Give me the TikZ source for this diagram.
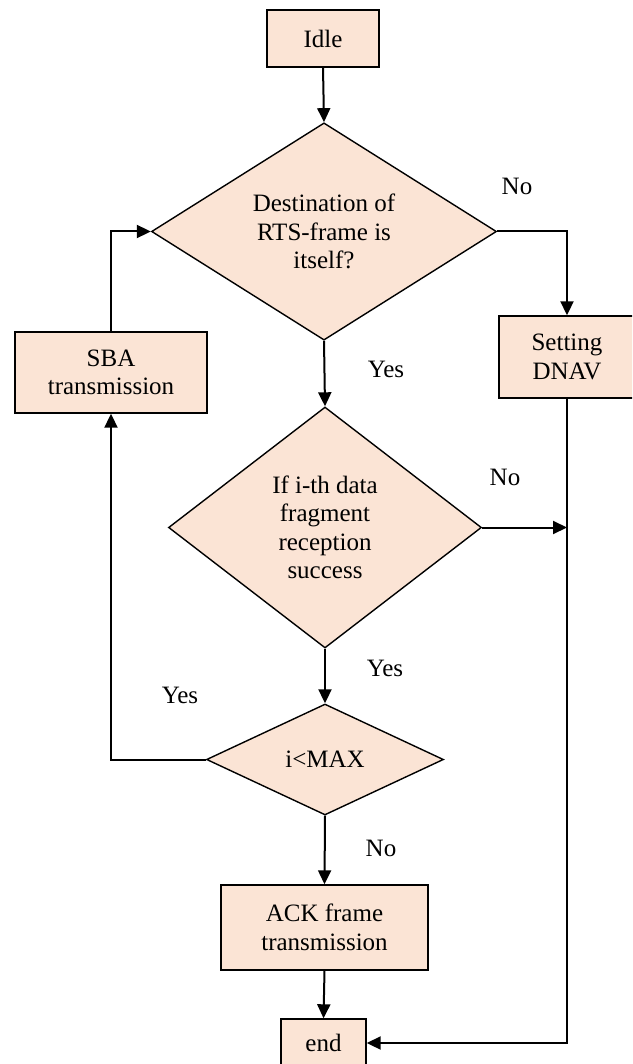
\documentclass[tikz,border=0pt]{standalone}
\usepackage{fontspec}
\setmainfont{Liberation Serif}
\usetikzlibrary{shapes.geometric,arrows.meta}
\definecolor{peach}{RGB}{251,228,213}
\tikzset{
  base/.style={draw=black, fill=peach, line width=1.4pt, align=center, inner sep=0pt,
    font=\fontsize{25}{28.5}\selectfont},
  box/.style={base, rectangle},
  decide/.style={base, diamond},
  lbl/.style={font=\fontsize{25}{28}\selectfont, inner sep=0pt},
  arr/.style={line width=2pt, -{Triangle[length=14pt,width=13pt]}}
}
\begin{document}
\begin{tikzpicture}[x=1pt,y=-1pt]
\useasboundingbox (0,0) rectangle (632,1064);
\clip (0,0) rectangle (632,1064);
\node[box, minimum width=112pt, minimum height=57pt] (idle) at (323,38.5) {Idle};
\node[decide, minimum width=345pt, minimum height=217pt] (d1) at (324,231.5) {Destination of\\RTS-frame is\\itself?};
\node[box, minimum width=192pt, minimum height=81pt] (sba) at (111,372.5) {SBA\\transmission};
\node[box, minimum width=136pt, minimum height=82pt] (set) at (567,357) {Setting\\DNAV};
\node[decide, minimum width=313pt, minimum height=241pt] (d2) at (325,527.5) {If i-th data\\fragment\\reception\\success};
\node[decide, minimum width=237pt, minimum height=111pt] (d3) at (325,759.5) {i<MAX};
\node[box, minimum width=207pt, minimum height=85pt] (ack) at (324.5,927.5) {ACK frame\\transmission};
\node[box, minimum width=85pt, minimum height=48pt] (end) at (323.5,1043) {end};

\draw[arr] (idle.south) -- (d1.north);
\draw[arr] (d1.east) -| (set.north);
\draw[arr] (d1.south) -- (d2.north);
\draw[arr] (d2.east) -- (d2.east -| set.south);
\draw[arr] (set.south) |- (end.east);
\draw[arr] (d2.south) -- (d3.north);
\draw[arr] (d3.west) -| (sba.south);
\draw[arr] (sba.north) |- (d1.west);
\draw[arr] (d3.south) -- (ack.north);
\draw[arr] (ack.south) -- (end.north);

\node[lbl] (l1) at (517,186) {No};
\node[lbl] (l2) at (386,369) {Yes};
\node[lbl] (l3) at (505,477) {No};
\node[lbl] (l4) at (385,668) {Yes};
\node[lbl] (l5) at (180,695) {Yes};
\node[lbl] (l6) at (381,848) {No};
\end{tikzpicture}
\end{document}
